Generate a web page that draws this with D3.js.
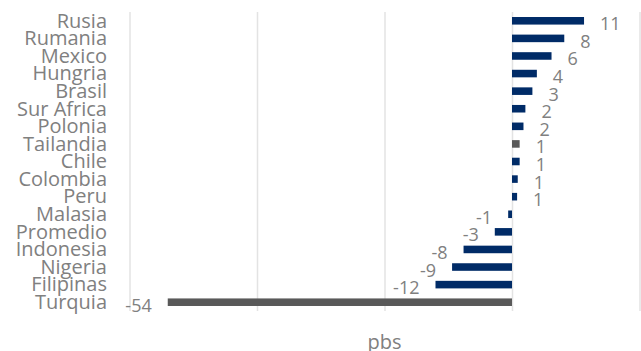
<!DOCTYPE html>
<html>
<head>
<meta charset="utf-8">
<script src="https://cdn.jsdelivr.net/npm/d3@7"></script>
<style>
  html, body { margin: 0; padding: 0; background: #fff; }
  svg { display: block; }
</style>
</head>
<body>
<svg id="chart" width="641" height="351"></svg>
<script>
const categories = ["Rusia","Rumania","Mexico","Hungria","Brasil","Sur Africa","Polonia","Tailandia","Chile","Colombia","Peru","Malasia","Promedio","Indonesia","Nigeria","Filipinas","Turquia"];
const values = [11.3, 8.2, 6.2, 3.9, 3.2, 2.1, 1.8, 1.2, 1.2, 0.9, 0.8, -0.6, -2.7, -7.6, -9.4, -12.0, -54.0];
const highlighted = ["Tailandia", "Turquia"];
const xTicks = [-60, -40, -20, 0, 20];
const axisTitle = "pbs";

const data = categories.map((c, i) => ({ cat: c, val: values[i] }));

const svg = d3.select("#chart");
const font = "'Open Sans', 'Noto Sans', sans-serif";
const textColor = "#808080";
const navy = "#002b67";
const grey = "#595959";

const x = d3.scaleLinear().domain([-60, 20]).range([129.5, 639.5]);
const y = d3.scaleBand().domain(categories).range([12, 311]).paddingInner(0.57).paddingOuter(0.285);

// gridlines
const xAxis = d3.axisBottom(x).tickValues(xTicks).tickSize(-(311 - 12)).tickFormat("");
const gx = svg.append("g").attr("transform", "translate(0,311)").call(xAxis);
gx.select(".domain").remove();
gx.selectAll(".tick line").attr("stroke", "#e3e3e3").attr("stroke-width", 1.5);

// bars
svg.append("g").selectAll("rect").data(data).join("rect")
  .attr("x", d => x(Math.min(0, d.val)))
  .attr("width", d => Math.abs(x(d.val) - x(0)))
  .attr("y", d => y(d.cat))
  .attr("height", y.bandwidth())
  .attr("fill", d => highlighted.includes(d.cat) ? grey : navy);

// category labels
const yAxis = d3.axisLeft(y).tickSize(0).tickPadding(0);
const gy = svg.append("g").attr("transform", "translate(107,0)").call(yAxis);
gy.select(".domain").remove();
gy.selectAll("text")
  .attr("font-family", font)
  .attr("font-size", 20)
  .attr("fill", textColor)
  .attr("dy", "0.34em");

// value labels
const fmt = d3.formatLocale({ decimal: ".", thousands: ",", grouping: [3], currency: ["", ""], minus: "-" }).format(".0f");
svg.append("g").selectAll("text").data(data).join("text")
  .attr("x", d => d.val >= 0 ? x(d.val) + 16 : x(d.val) - 16)
  .attr("y", d => y(d.cat) + y.bandwidth() / 2 + 3)
  .attr("dy", "0.36em")
  .attr("text-anchor", d => d.val >= 0 ? "start" : "end")
  .attr("font-family", font)
  .attr("font-size", 18)
  .attr("fill", textColor)
  .text(d => fmt(d.val));

// axis title
svg.append("text")
  .attr("x", (x.range()[0] + x.range()[1]) / 2)
  .attr("y", 342)
  .attr("dy", "0.35em")
  .attr("text-anchor", "middle")
  .attr("font-family", font)
  .attr("font-size", 20)
  .attr("fill", textColor)
  .text(axisTitle);
</script>
</body>
</html>
